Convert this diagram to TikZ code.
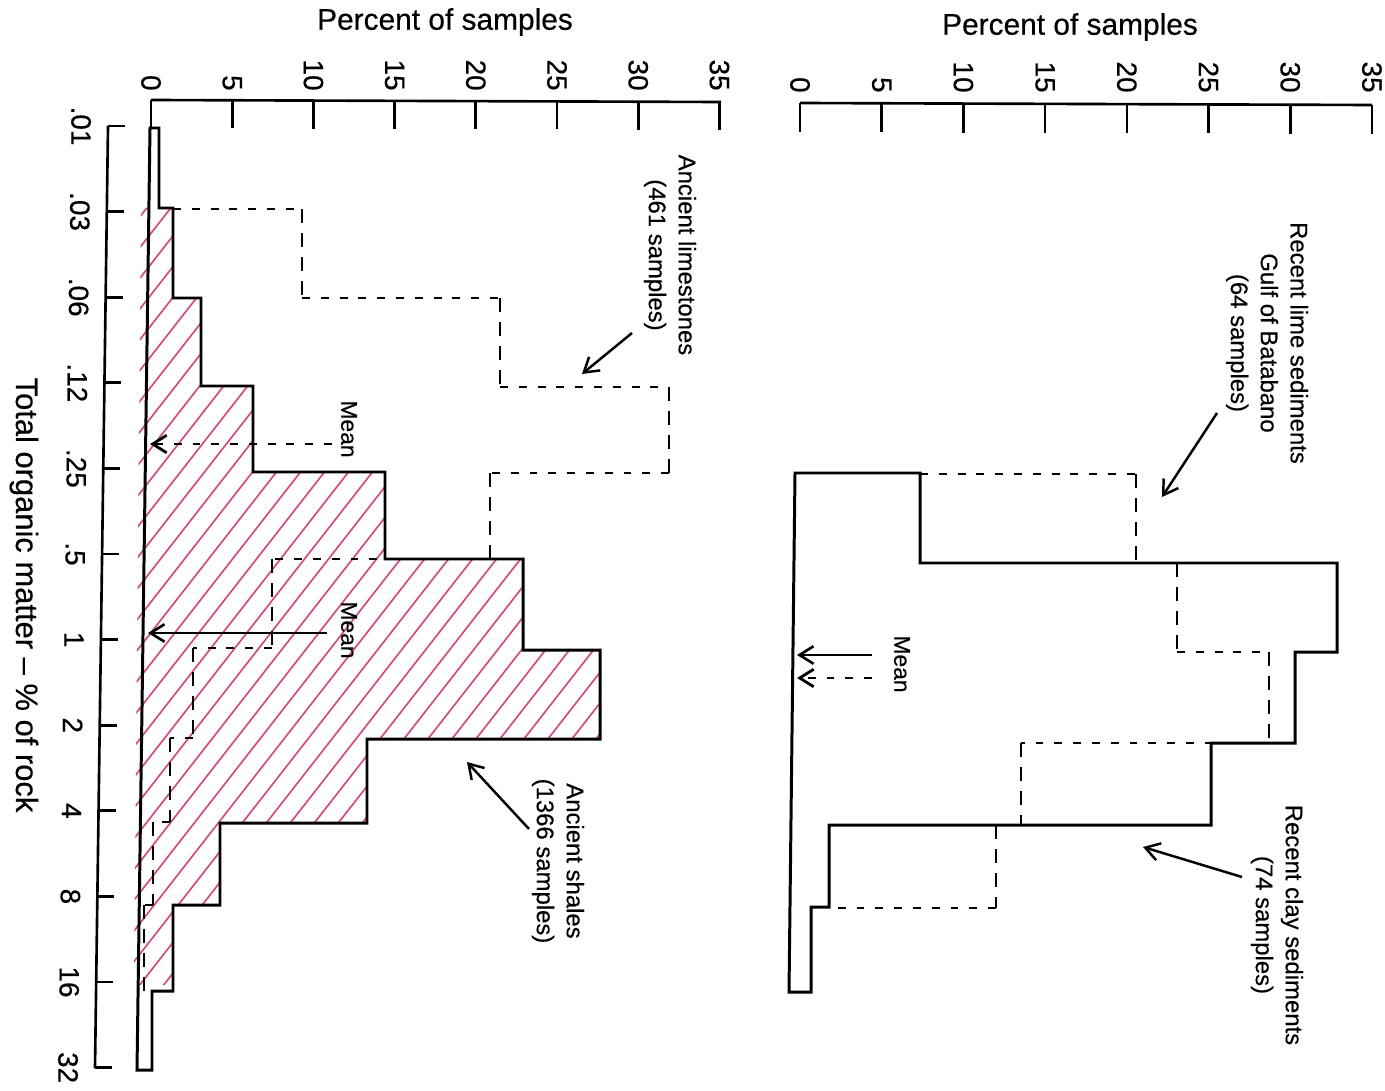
\documentclass[tikz,border=0pt]{standalone}
\usepackage{fontspec}
\setmainfont{Liberation Sans}[FakeBold=0.4]
\usetikzlibrary{arrows.meta}
\definecolor{hatchred}{RGB}{226,64,116}
\begin{document}
\begin{tikzpicture}[x=0.02cm,y=-0.02cm,
  ax/.style={line width=1.5pt},
  hist/.style={line width=1.7pt, line join=miter},
  hd/.style={line width=1.6pt, dash pattern=on 4.5pt off 6.2pt},
  vd/.style={line width=1.6pt, dash pattern=on 8pt off 5.7pt},
  hatch/.style={draw=hatchred, line width=0.9pt},
  barb/.style={-{Straight Barb[length=8pt,width=10pt]}},
  annarrow/.style={line width=1.4pt, -{Straight Barb[length=8pt,width=10pt]}},
  ttl/.style={font=\fontsize{17}{20}\selectfont, inner sep=0pt},
  tck/.style={font=\fontsize{15.9}{18}\selectfont, inner sep=0pt, rotate=-90},
  axl/.style={font=\fontsize{17.6}{20}\selectfont, inner sep=0pt, rotate=-90},
  ann/.style={font=\fontsize{13.6}{17}\selectfont, inner sep=0pt, rotate=-90, align=center},
  mlbl/.style={font=\fontsize{13}{15}\selectfont, inner sep=0pt, rotate=-90},
]
\useasboundingbox (0,0) rectangle (1385,1091);
\fill[white] (0,0) rectangle (1385,1091);

% ---------- hatching of ancient shales ----------
\begin{scope}
\clip (141,208) -- (173,208) -- (173,298) -- (201,298) -- (201,386) -- (253,386) -- (253,472) -- (385,472) -- (385,559) -- (523,559) -- (523,650) -- (600,650) -- (600,739) -- (367,739) -- (367,823) -- (220,823) -- (220,905) -- (173,905) -- (173,985) -- (134,985) -- cycle;
\foreach \c in {-520,-496,...,640} \draw[hatch] (\c,1000) -- ++(800,-1024);
\end{scope}

% ---------- titles ----------
\node[ttl] (t1) at (445,22) {Percent of samples};
\node[ttl] (t2) at (1070,27) {Percent of samples};
\node[axl] (xlab) at (24,595) {Total organic matter -- \% of rock};

% ---------- left percent axis ----------
\draw[ax] (151,100) -- (721,102);
\foreach \v [count=\i from 0] in {0,5,10,15,20,25,30,35} {
  \draw[ax] ({151+81.2*\i},{100+0.3*\i}) -- ++(0,28);
  \node[tck, anchor=east] (lp\i) at ({151+81.2*\i},91) {\v};
}
% ---------- right percent axis ----------
\draw[ax] (800,103) -- (1372,105);
\foreach \v [count=\i from 0] in {0,5,10,15,20,25,30,35} {
  \draw[ax] ({800+81.7*\i},{103+0.3*\i}) -- ++(0,29);
  \node[tck, anchor=east] (rp\i) at ({800+81.7*\i},93) {\v};
}

% ---------- organic matter axis ----------
\draw[ax] (108,126) -- (95,1068);
\foreach \t [count=\i from 0] in {.01,.03,.06,.12,.25,.5,1,2,4,8,16,32} {
  \pgfmathsetmacro{\yy}{126+85.6*\i}
  \pgfmathsetmacro{\xx}{108-0.0138*85.6*\i}
  \draw[ax] (\xx,\yy) -- ++(17,0);
  \node[tck] (ol\i) at (\xx-27,\yy) {\t};
}

% ---------- ancient limestones (dashed) ----------
\draw[hd] (173,209) -- (302,209) (302,298) -- (500,298) (500,387) -- (669,387) (669,473) -- (490,473) (490,559) -- (272,559) (272,648) -- (193,648) (193,738) -- (170,738) (170,822) -- (153,822) (153,905) -- (144,905);
\draw[vd] (302,209) -- (302,298) (500,298) -- (500,387) (669,387) -- (669,473) (490,473) -- (490,559) (272,559) -- (272,648) (193,648) -- (193,738) (170,738) -- (170,822) (153,822) -- (153,905) (144,905) -- (144,991);

% ---------- ancient shales (solid) ----------
\draw[hist] (150,128) -- (159,128) -- (159,208) -- (173,208) -- (173,298) -- (201,298) -- (201,386) -- (253,386) -- (253,472) -- (385,472) -- (385,559) -- (523,559) -- (523,650) -- (600,650) -- (600,739) -- (367,739) -- (367,823) -- (220,823) -- (220,905) -- (173,905) -- (173,991) -- (152,991) -- (152,1070) -- (137,1070) -- cycle;

% ---------- recent lime sediments (dashed) ----------
\draw[hd] (920,474) -- (1136,474) (1177,652) -- (1269,652) (1269,743) -- (1021,743) (996,908) -- (829,908);
\draw[vd] (1136,474) -- (1136,563) (1177,563) -- (1177,652) (1269,652) -- (1269,743) (1021,743) -- (1021,825) (996,825) -- (996,908);

% ---------- recent clay sediments (solid) ----------
\draw[hist] (795,473) -- (920,473) -- (920,563) -- (1337,563) -- (1337,652) -- (1295,652) -- (1295,743) -- (1211,743) -- (1211,825) -- (829,825) -- (829,907) -- (811,907) -- (811,992) -- (789,992) -- cycle;

% ---------- means ----------
\node[mlbl] (mean1) at (349,429) {Mean};
\node[mlbl] (mean2) at (349,630) {Mean};
\node[mlbl] (mean3) at (902,664) {Mean};
\coordinate (ma1) at (332,444); \coordinate (mb1) at (150,444);
\coordinate (ma2) at (327,633); \coordinate (mb2) at (148,633);
\coordinate (ma3) at (872,655); \coordinate (mb3) at (797,655);
\coordinate (ma4) at (872,678); \coordinate (mb4) at (797,678);
\draw[hd, barb] (ma1) -- (mb1);
\draw[line width=1.5pt, barb] (ma2) -- (mb2);
\draw[line width=1.5pt, barb] (ma3) -- (mb3);
\draw[hd, barb] (ma4) -- (mb4);

% ---------- annotations ----------
\node[ann] (lsl) at (670,255) {Ancient limestones\\(461 samples)};
\node[ann] (shl) at (558,861) {Ancient shales\\(1366 samples)};
\node[ann] (lml) at (1267,343) {Recent lime sediments\\Gulf of Batabano\\(64 samples)};
\node[ann] (cll) at (1277,925) {Recent clay sediments\\(74 samples)};
\coordinate (a1s) at (632,333); \coordinate (a1e) at (582,374);
\coordinate (a2s) at (529,829); \coordinate (a2e) at (467,762);
\coordinate (a3s) at (1217,413); \coordinate (a3e) at (1162,497);
\coordinate (a4s) at (1242,877); \coordinate (a4e) at (1143,847);
\draw[annarrow] (a1s) -- (a1e);
\draw[annarrow] (a2s) -- (a2e);
\draw[annarrow] (a3s) -- (a3e);
\draw[annarrow] (a4s) -- (a4e);
\end{tikzpicture}
\end{document}
